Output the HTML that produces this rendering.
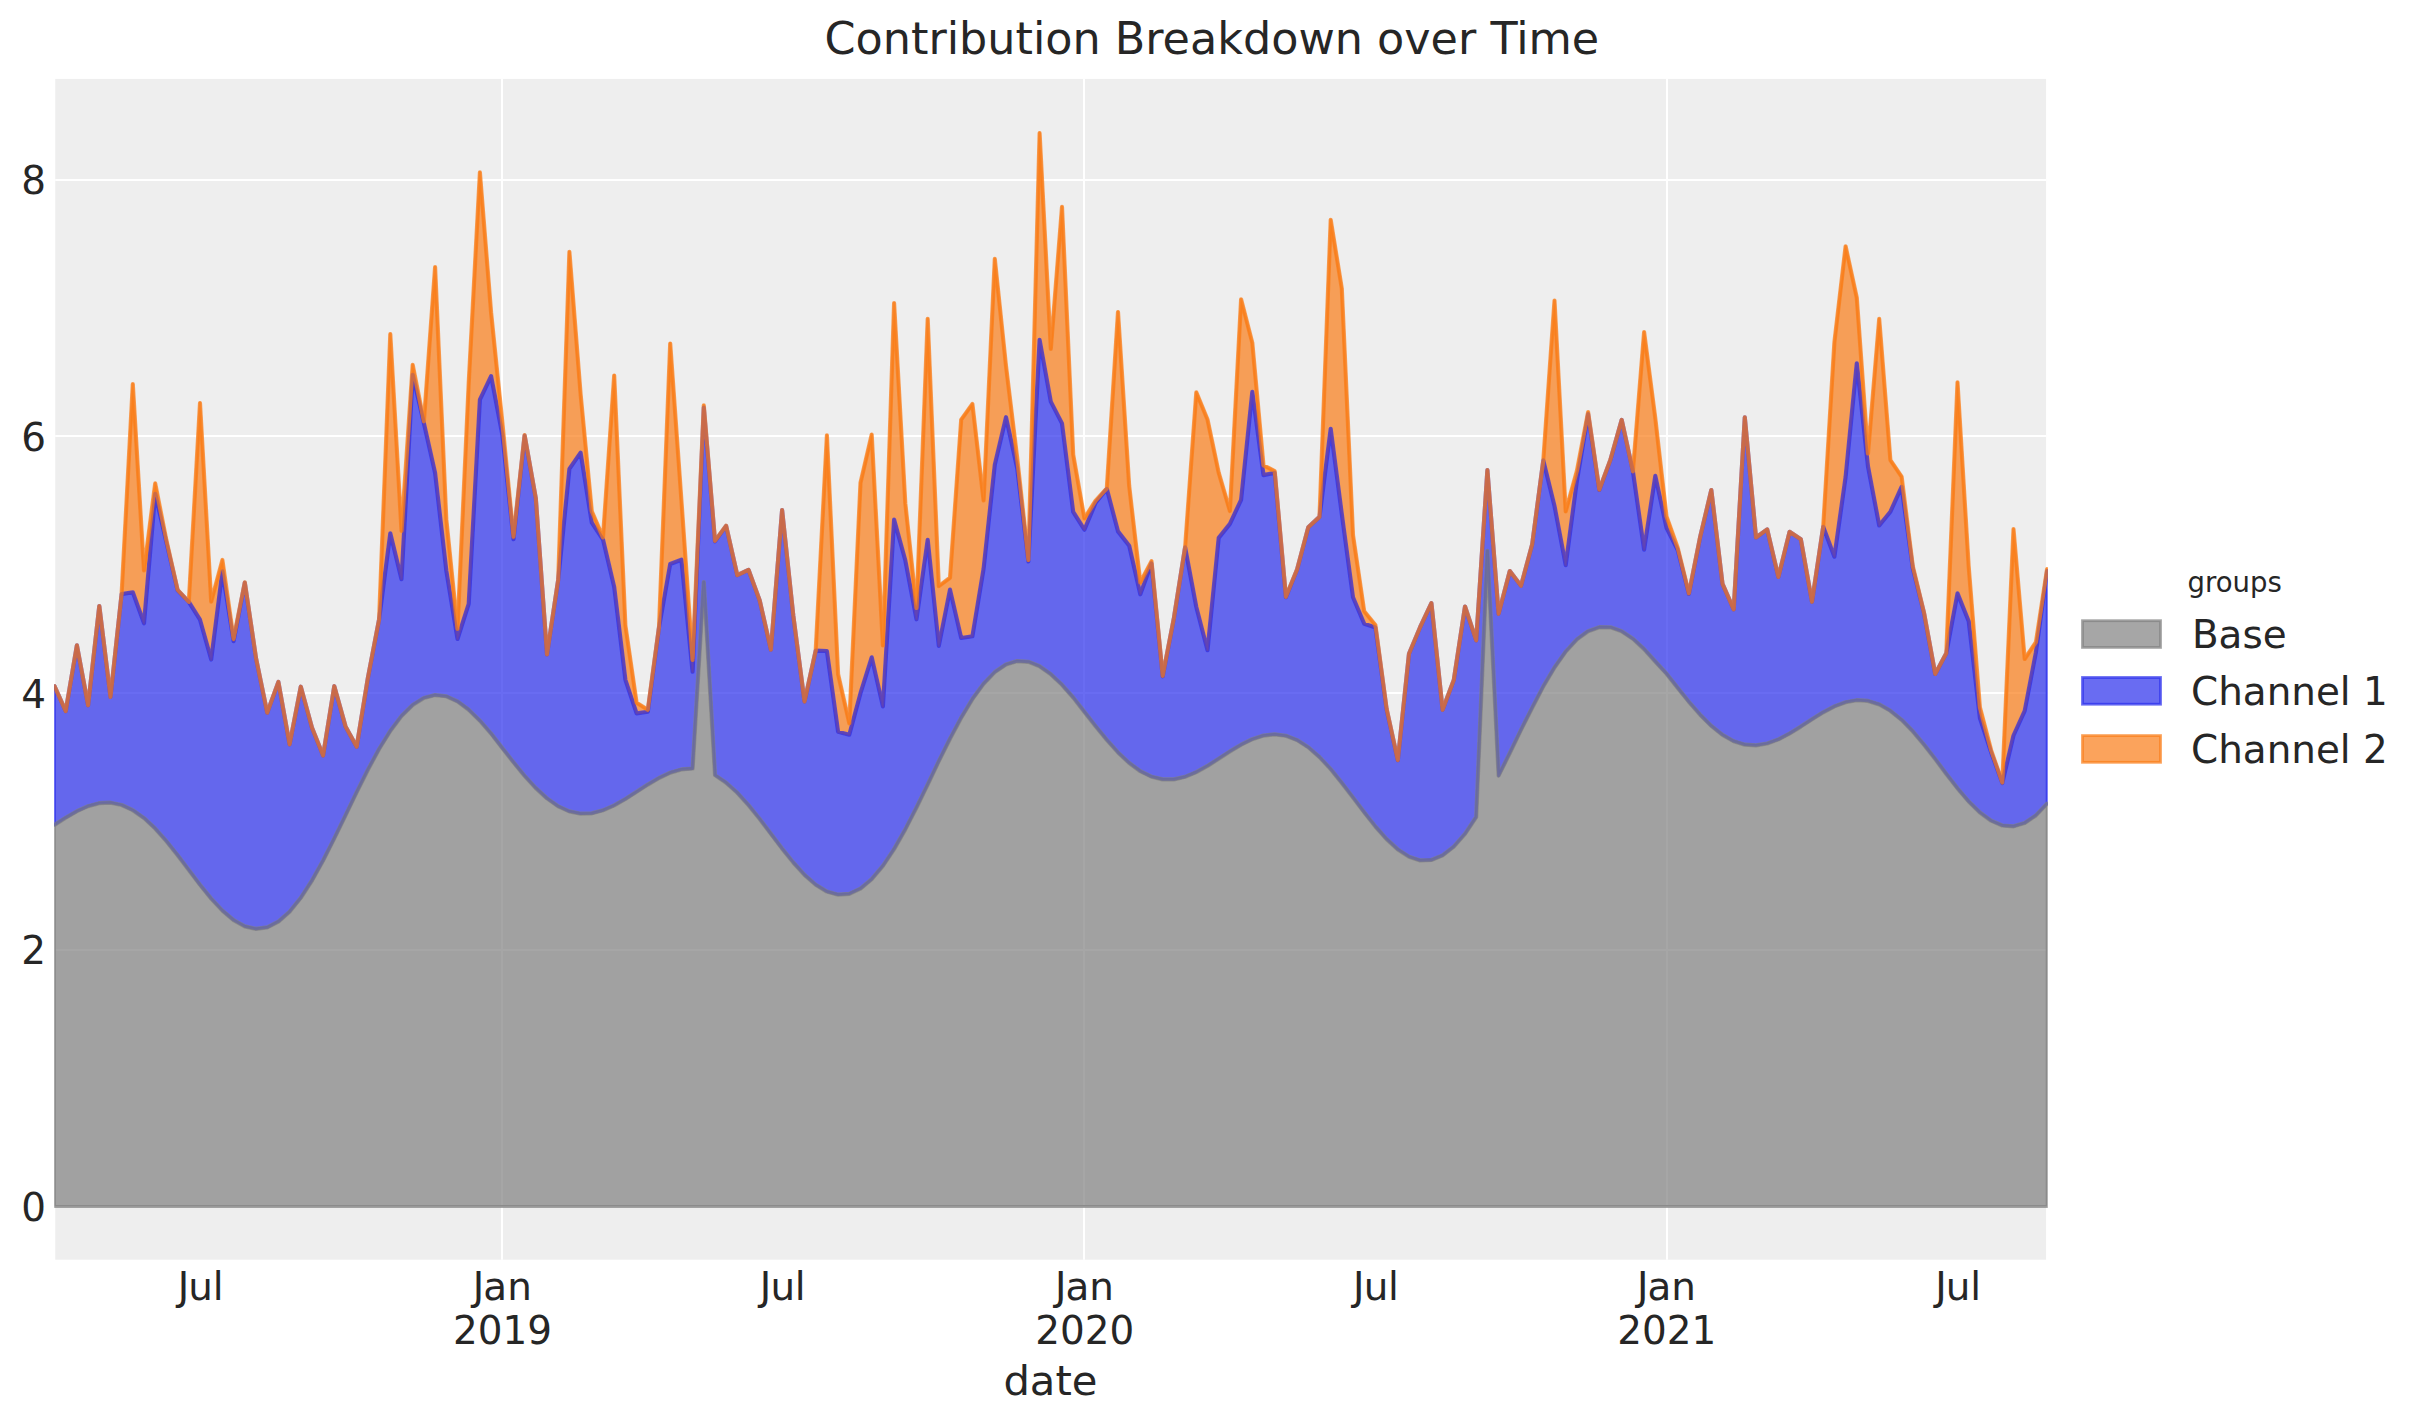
<!DOCTYPE html>
<html lang="en"><head><meta charset="utf-8"><title>Contribution Breakdown over Time</title>
<style>html,body{margin:0;padding:0;background:#ffffff;}body{width:2423px;height:1423px;overflow:hidden;position:relative;}</style></head>
<body>
<svg width="2423" height="1423" viewBox="0 0 2423 1423" style="display:block;position:absolute;left:0;top:0">
<defs><clipPath id="ax"><rect x="54.2" y="78.9" width="1993.6" height="1180.8"/></clipPath></defs>
<rect x="55.25" y="78.9" width="1990.85" height="1180.80" fill="#eeeeee"/>
<g fill="#ffffff"><rect x="501" y="78.9" width="2" height="1180.80"/><rect x="1083" y="78.9" width="2" height="1180.80"/><rect x="1666" y="78.9" width="2" height="1180.80"/><rect x="55.25" y="179" width="1990.85" height="2"/><rect x="55.25" y="435" width="1990.85" height="2"/><rect x="55.25" y="692" width="1990.85" height="2"/><rect x="55.25" y="949" width="1990.85" height="2"/><rect x="55.25" y="1205" width="1990.85" height="2"/></g>
<g clip-path="url(#ax)" stroke-linejoin="round" stroke-linecap="round">
<polygon points="54.5,824.9 65.7,817.7 76.9,811.2 88.1,806.2 99.3,803.2 110.5,802.7 121.6,805.0 132.8,810.2 144.0,818.1 155.2,828.6 166.4,841.2 177.6,855.2 188.8,870.0 200.0,884.8 211.2,898.6 222.4,910.6 233.6,920.1 244.8,926.4 256.0,928.9 267.2,927.4 278.4,921.6 289.6,911.7 300.8,897.8 312.0,880.5 323.1,860.5 334.3,838.4 345.5,815.3 356.7,792.1 367.9,769.7 379.1,749.0 390.3,730.9 401.5,716.0 412.7,704.9 423.9,697.9 435.1,695.1 446.3,696.3 457.5,701.4 468.7,709.7 479.9,720.7 491.1,733.6 502.3,748.1 513.5,762.3 524.6,775.9 535.8,788.1 547.0,798.4 558.2,806.3 569.4,811.4 580.6,813.7 591.8,813.3 603.0,810.3 614.2,805.4 625.4,799.0 636.6,791.8 647.8,784.6 659.0,778.0 670.2,772.7 681.4,769.4 692.6,768.5 703.8,582.1 715.0,775.1 726.1,782.7 737.3,792.8 748.5,805.1 759.7,819.0 770.9,833.8 782.1,848.6 793.3,862.5 804.5,874.9 815.7,884.8 826.9,891.6 838.1,894.7 849.3,893.8 860.5,888.6 871.7,879.2 882.9,865.9 894.1,849.1 905.3,829.4 916.5,807.5 927.7,784.5 938.8,761.2 950.0,738.7 961.2,717.7 972.4,699.1 983.6,683.8 994.8,672.1 1006.0,664.5 1017.2,661.1 1028.4,661.8 1039.6,666.3 1050.8,674.2 1062.0,684.8 1073.2,697.5 1084.4,711.9 1095.6,726.2 1106.8,739.9 1118.0,752.4 1129.2,763.0 1140.3,771.2 1151.5,776.7 1162.7,779.4 1173.9,779.4 1185.1,776.8 1196.3,772.1 1207.5,765.9 1218.7,758.7 1229.9,751.4 1241.1,744.7 1252.3,739.2 1263.5,735.6 1274.7,734.4 1285.9,735.8 1297.1,740.1 1308.3,747.3 1319.5,757.1 1330.7,769.1 1341.8,782.9 1353.0,797.5 1364.2,812.3 1375.4,826.5 1386.6,839.1 1397.8,849.4 1409.0,856.7 1420.2,860.4 1431.4,860.0 1442.6,855.4 1453.8,846.7 1465.0,833.9 1476.2,817.0 1487.4,550.8 1498.6,775.7 1509.8,753.0 1521.0,729.8 1532.2,707.7 1543.3,686.4 1554.5,667.5 1565.7,651.6 1576.9,639.4 1588.1,631.2 1599.3,627.2 1610.5,627.3 1621.7,631.3 1632.9,638.8 1644.1,649.1 1655.3,661.5 1666.5,673.7 1677.7,687.9 1688.9,701.8 1700.1,714.7 1711.3,725.9 1722.5,734.9 1733.7,741.2 1744.8,744.7 1756.0,745.4 1767.2,743.5 1778.4,739.4 1789.6,733.5 1800.8,726.6 1812.0,719.3 1823.2,712.3 1834.4,706.4 1845.6,702.2 1856.8,700.2 1868.0,700.9 1879.2,704.4 1890.4,710.8 1901.6,719.8 1912.8,731.3 1924.0,744.6 1935.2,759.0 1946.3,773.9 1957.5,788.3 1968.7,801.5 1979.9,812.5 1991.1,820.7 2002.3,825.5 2013.5,826.3 2024.7,823.0 2035.9,815.4 2047.1,803.7 2047.1,1206.5 2035.9,1206.5 2024.7,1206.5 2013.5,1206.5 2002.3,1206.5 1991.1,1206.5 1979.9,1206.5 1968.7,1206.5 1957.5,1206.5 1946.3,1206.5 1935.2,1206.5 1924.0,1206.5 1912.8,1206.5 1901.6,1206.5 1890.4,1206.5 1879.2,1206.5 1868.0,1206.5 1856.8,1206.5 1845.6,1206.5 1834.4,1206.5 1823.2,1206.5 1812.0,1206.5 1800.8,1206.5 1789.6,1206.5 1778.4,1206.5 1767.2,1206.5 1756.0,1206.5 1744.8,1206.5 1733.7,1206.5 1722.5,1206.5 1711.3,1206.5 1700.1,1206.5 1688.9,1206.5 1677.7,1206.5 1666.5,1206.5 1655.3,1206.5 1644.1,1206.5 1632.9,1206.5 1621.7,1206.5 1610.5,1206.5 1599.3,1206.5 1588.1,1206.5 1576.9,1206.5 1565.7,1206.5 1554.5,1206.5 1543.3,1206.5 1532.2,1206.5 1521.0,1206.5 1509.8,1206.5 1498.6,1206.5 1487.4,1206.5 1476.2,1206.5 1465.0,1206.5 1453.8,1206.5 1442.6,1206.5 1431.4,1206.5 1420.2,1206.5 1409.0,1206.5 1397.8,1206.5 1386.6,1206.5 1375.4,1206.5 1364.2,1206.5 1353.0,1206.5 1341.8,1206.5 1330.7,1206.5 1319.5,1206.5 1308.3,1206.5 1297.1,1206.5 1285.9,1206.5 1274.7,1206.5 1263.5,1206.5 1252.3,1206.5 1241.1,1206.5 1229.9,1206.5 1218.7,1206.5 1207.5,1206.5 1196.3,1206.5 1185.1,1206.5 1173.9,1206.5 1162.7,1206.5 1151.5,1206.5 1140.3,1206.5 1129.2,1206.5 1118.0,1206.5 1106.8,1206.5 1095.6,1206.5 1084.4,1206.5 1073.2,1206.5 1062.0,1206.5 1050.8,1206.5 1039.6,1206.5 1028.4,1206.5 1017.2,1206.5 1006.0,1206.5 994.8,1206.5 983.6,1206.5 972.4,1206.5 961.2,1206.5 950.0,1206.5 938.8,1206.5 927.7,1206.5 916.5,1206.5 905.3,1206.5 894.1,1206.5 882.9,1206.5 871.7,1206.5 860.5,1206.5 849.3,1206.5 838.1,1206.5 826.9,1206.5 815.7,1206.5 804.5,1206.5 793.3,1206.5 782.1,1206.5 770.9,1206.5 759.7,1206.5 748.5,1206.5 737.3,1206.5 726.1,1206.5 715.0,1206.5 703.8,1206.5 692.6,1206.5 681.4,1206.5 670.2,1206.5 659.0,1206.5 647.8,1206.5 636.6,1206.5 625.4,1206.5 614.2,1206.5 603.0,1206.5 591.8,1206.5 580.6,1206.5 569.4,1206.5 558.2,1206.5 547.0,1206.5 535.8,1206.5 524.6,1206.5 513.5,1206.5 502.3,1206.5 491.1,1206.5 479.9,1206.5 468.7,1206.5 457.5,1206.5 446.3,1206.5 435.1,1206.5 423.9,1206.5 412.7,1206.5 401.5,1206.5 390.3,1206.5 379.1,1206.5 367.9,1206.5 356.7,1206.5 345.5,1206.5 334.3,1206.5 323.1,1206.5 312.0,1206.5 300.8,1206.5 289.6,1206.5 278.4,1206.5 267.2,1206.5 256.0,1206.5 244.8,1206.5 233.6,1206.5 222.4,1206.5 211.2,1206.5 200.0,1206.5 188.8,1206.5 177.6,1206.5 166.4,1206.5 155.2,1206.5 144.0,1206.5 132.8,1206.5 121.6,1206.5 110.5,1206.5 99.3,1206.5 88.1,1206.5 76.9,1206.5 65.7,1206.5 54.5,1206.5" fill="#808080" fill-opacity="0.7" stroke="#808080" stroke-opacity="0.7" stroke-width="2.78"/>
<polygon points="54.5,686.2 65.7,711.2 76.9,645.3 88.1,705.3 99.3,606.1 110.5,696.9 121.6,594.1 132.8,592.3 144.0,623.3 155.2,493.8 166.4,542.3 177.6,590.3 188.8,601.9 200.0,619.7 211.2,659.5 222.4,571.4 233.6,641.2 244.8,582.7 256.0,658.2 267.2,712.7 278.4,682.0 289.6,744.4 300.8,686.7 312.0,727.8 323.1,755.5 334.3,686.2 345.5,726.4 356.7,746.7 367.9,677.8 379.1,619.3 390.3,533.3 401.5,579.2 412.7,374.9 423.9,423.2 435.1,473.0 446.3,570.6 457.5,639.0 468.7,603.8 479.9,399.6 491.1,376.1 502.3,434.6 513.5,539.2 524.6,435.6 535.8,498.3 547.0,654.4 558.2,579.7 569.4,468.9 580.6,452.6 591.8,522.7 603.0,539.6 614.2,587.0 625.4,679.8 636.6,713.4 647.8,711.8 659.0,627.5 670.2,564.0 681.4,559.7 692.6,671.7 703.8,407.7 715.0,541.3 726.1,525.9 737.3,575.2 748.5,569.8 759.7,600.5 770.9,649.7 782.1,510.1 793.3,615.7 804.5,701.6 815.7,650.7 826.9,651.0 838.1,731.8 849.3,734.7 860.5,693.2 871.7,657.3 882.9,706.4 894.1,519.6 905.3,560.3 916.5,619.3 927.7,539.8 938.8,645.9 950.0,589.6 961.2,638.0 972.4,636.3 983.6,568.7 994.8,464.7 1006.0,417.2 1017.2,468.2 1028.4,561.4 1039.6,339.9 1050.8,401.6 1062.0,423.4 1073.2,511.9 1084.4,529.7 1095.6,502.8 1106.8,488.9 1118.0,531.4 1129.2,545.7 1140.3,594.3 1151.5,563.4 1162.7,676.3 1173.9,618.2 1185.1,547.4 1196.3,607.0 1207.5,650.2 1218.7,537.9 1229.9,523.9 1241.1,499.8 1252.3,391.9 1263.5,475.1 1274.7,472.9 1285.9,597.2 1297.1,569.5 1308.3,527.2 1319.5,516.9 1330.7,428.8 1341.8,514.0 1353.0,597.3 1364.2,623.7 1375.4,627.4 1386.6,709.2 1397.8,760.2 1409.0,653.7 1420.2,627.0 1431.4,603.1 1442.6,709.8 1453.8,680.0 1465.0,606.5 1476.2,640.4 1487.4,470.2 1498.6,613.8 1509.8,571.1 1521.0,585.8 1532.2,544.3 1543.3,460.4 1554.5,506.0 1565.7,565.2 1576.9,480.8 1588.1,414.1 1599.3,490.0 1610.5,459.6 1621.7,419.9 1632.9,471.3 1644.1,549.6 1655.3,475.9 1666.5,527.8 1677.7,550.0 1688.9,593.9 1700.1,537.3 1711.3,490.1 1722.5,583.9 1733.7,609.4 1744.8,417.4 1756.0,537.5 1767.2,529.4 1778.4,577.0 1789.6,531.8 1800.8,539.2 1812.0,601.8 1823.2,526.8 1834.4,556.7 1845.6,476.9 1856.8,363.3 1868.0,466.5 1879.2,525.5 1890.4,511.7 1901.6,486.8 1912.8,568.3 1924.0,613.1 1935.2,674.0 1946.3,653.3 1957.5,593.4 1968.7,621.3 1979.9,718.0 1991.1,752.2 2002.3,783.0 2013.5,735.5 2024.7,710.9 2035.9,652.4 2047.1,571.0 2047.1,803.7 2035.9,815.4 2024.7,823.0 2013.5,826.3 2002.3,825.5 1991.1,820.7 1979.9,812.5 1968.7,801.5 1957.5,788.3 1946.3,773.9 1935.2,759.0 1924.0,744.6 1912.8,731.3 1901.6,719.8 1890.4,710.8 1879.2,704.4 1868.0,700.9 1856.8,700.2 1845.6,702.2 1834.4,706.4 1823.2,712.3 1812.0,719.3 1800.8,726.6 1789.6,733.5 1778.4,739.4 1767.2,743.5 1756.0,745.4 1744.8,744.7 1733.7,741.2 1722.5,734.9 1711.3,725.9 1700.1,714.7 1688.9,701.8 1677.7,687.9 1666.5,673.7 1655.3,661.5 1644.1,649.1 1632.9,638.8 1621.7,631.3 1610.5,627.3 1599.3,627.2 1588.1,631.2 1576.9,639.4 1565.7,651.6 1554.5,667.5 1543.3,686.4 1532.2,707.7 1521.0,729.8 1509.8,753.0 1498.6,775.7 1487.4,550.8 1476.2,817.0 1465.0,833.9 1453.8,846.7 1442.6,855.4 1431.4,860.0 1420.2,860.4 1409.0,856.7 1397.8,849.4 1386.6,839.1 1375.4,826.5 1364.2,812.3 1353.0,797.5 1341.8,782.9 1330.7,769.1 1319.5,757.1 1308.3,747.3 1297.1,740.1 1285.9,735.8 1274.7,734.4 1263.5,735.6 1252.3,739.2 1241.1,744.7 1229.9,751.4 1218.7,758.7 1207.5,765.9 1196.3,772.1 1185.1,776.8 1173.9,779.4 1162.7,779.4 1151.5,776.7 1140.3,771.2 1129.2,763.0 1118.0,752.4 1106.8,739.9 1095.6,726.2 1084.4,711.9 1073.2,697.5 1062.0,684.8 1050.8,674.2 1039.6,666.3 1028.4,661.8 1017.2,661.1 1006.0,664.5 994.8,672.1 983.6,683.8 972.4,699.1 961.2,717.7 950.0,738.7 938.8,761.2 927.7,784.5 916.5,807.5 905.3,829.4 894.1,849.1 882.9,865.9 871.7,879.2 860.5,888.6 849.3,893.8 838.1,894.7 826.9,891.6 815.7,884.8 804.5,874.9 793.3,862.5 782.1,848.6 770.9,833.8 759.7,819.0 748.5,805.1 737.3,792.8 726.1,782.7 715.0,775.1 703.8,582.1 692.6,768.5 681.4,769.4 670.2,772.7 659.0,778.0 647.8,784.6 636.6,791.8 625.4,799.0 614.2,805.4 603.0,810.3 591.8,813.3 580.6,813.7 569.4,811.4 558.2,806.3 547.0,798.4 535.8,788.1 524.6,775.9 513.5,762.3 502.3,748.1 491.1,733.6 479.9,720.7 468.7,709.7 457.5,701.4 446.3,696.3 435.1,695.1 423.9,697.9 412.7,704.9 401.5,716.0 390.3,730.9 379.1,749.0 367.9,769.7 356.7,792.1 345.5,815.3 334.3,838.4 323.1,860.5 312.0,880.5 300.8,897.8 289.6,911.7 278.4,921.6 267.2,927.4 256.0,928.9 244.8,926.4 233.6,920.1 222.4,910.6 211.2,898.6 200.0,884.8 188.8,870.0 177.6,855.2 166.4,841.2 155.2,828.6 144.0,818.1 132.8,810.2 121.6,805.0 110.5,802.7 99.3,803.2 88.1,806.2 76.9,811.2 65.7,817.7 54.5,824.9" fill="#2a2eec" fill-opacity="0.7" stroke="#2a2eec" stroke-opacity="0.7" stroke-width="2.78"/>
<polygon points="54.5,686.2 65.7,711.2 76.9,645.3 88.1,705.3 99.3,606.1 110.5,696.9 121.6,594.1 132.8,384.2 144.0,570.4 155.2,483.4 166.4,540.3 177.6,589.9 188.8,601.9 200.0,403.0 211.2,601.6 222.4,560.0 233.6,638.9 244.8,582.3 256.0,658.1 267.2,712.7 278.4,682.0 289.6,744.4 300.8,686.7 312.0,727.8 323.1,755.5 334.3,686.2 345.5,726.4 356.7,746.7 367.9,677.8 379.1,619.3 390.3,334.0 401.5,530.9 412.7,364.9 423.9,421.3 435.1,267.1 446.3,519.2 457.5,628.8 468.7,383.4 479.9,172.4 491.1,312.5 502.3,422.0 513.5,536.7 524.6,435.1 535.8,498.3 547.0,654.4 558.2,579.7 569.4,251.9 580.6,394.1 591.8,511.2 603.0,537.4 614.2,375.5 625.4,625.5 636.6,702.7 647.8,709.7 659.0,627.1 670.2,343.5 681.4,500.1 692.6,659.9 703.8,405.4 715.0,540.8 726.1,525.8 737.3,575.2 748.5,569.8 759.7,600.5 770.9,649.7 782.1,510.1 793.3,615.7 804.5,701.6 815.7,650.7 826.9,435.3 838.1,674.3 849.3,723.3 860.5,482.7 871.7,434.5 882.9,645.5 894.1,303.1 905.3,503.2 916.5,608.0 927.7,318.9 938.8,586.1 950.0,577.8 961.2,419.6 972.4,404.0 983.6,500.4 994.8,258.9 1006.0,366.0 1017.2,458.1 1028.4,559.9 1039.6,133.0 1050.8,348.8 1062.0,206.9 1073.2,454.7 1084.4,518.4 1095.6,500.6 1106.8,488.4 1118.0,312.0 1129.2,486.1 1140.3,582.5 1151.5,561.1 1162.7,675.8 1173.9,618.1 1185.1,547.4 1196.3,392.4 1207.5,419.5 1218.7,472.7 1229.9,511.0 1241.1,299.3 1252.3,342.8 1263.5,465.4 1274.7,471.0 1285.9,596.8 1297.1,569.4 1308.3,527.2 1319.5,516.9 1330.7,219.8 1341.8,288.5 1353.0,535.0 1364.2,611.3 1375.4,625.0 1386.6,708.7 1397.8,760.1 1409.0,653.7 1420.2,627.0 1431.4,603.1 1442.6,709.8 1453.8,680.0 1465.0,606.5 1476.2,640.4 1487.4,470.2 1498.6,613.8 1509.8,571.1 1521.0,585.8 1532.2,544.3 1543.3,460.4 1554.5,300.6 1565.7,511.5 1576.9,470.8 1588.1,412.1 1599.3,489.7 1610.5,459.5 1621.7,419.9 1632.9,471.3 1644.1,332.1 1655.3,418.3 1666.5,516.4 1677.7,547.8 1688.9,593.4 1700.1,537.2 1711.3,490.1 1722.5,583.9 1733.7,609.4 1744.8,417.4 1756.0,537.5 1767.2,529.4 1778.4,577.0 1789.6,531.8 1800.8,539.2 1812.0,601.8 1823.2,526.8 1834.4,342.2 1845.6,246.3 1856.8,297.8 1868.0,453.5 1879.2,318.8 1890.4,460.1 1901.6,476.6 1912.8,566.3 1924.0,612.7 1935.2,673.9 1946.3,653.3 1957.5,382.4 1968.7,566.7 1979.9,707.2 1991.1,750.1 2002.3,782.5 2013.5,529.1 2024.7,659.0 2035.9,642.2 2047.1,569.0 2047.1,571.0 2035.9,652.4 2024.7,710.9 2013.5,735.5 2002.3,783.0 1991.1,752.2 1979.9,718.0 1968.7,621.3 1957.5,593.4 1946.3,653.3 1935.2,674.0 1924.0,613.1 1912.8,568.3 1901.6,486.8 1890.4,511.7 1879.2,525.5 1868.0,466.5 1856.8,363.3 1845.6,476.9 1834.4,556.7 1823.2,526.8 1812.0,601.8 1800.8,539.2 1789.6,531.8 1778.4,577.0 1767.2,529.4 1756.0,537.5 1744.8,417.4 1733.7,609.4 1722.5,583.9 1711.3,490.1 1700.1,537.3 1688.9,593.9 1677.7,550.0 1666.5,527.8 1655.3,475.9 1644.1,549.6 1632.9,471.3 1621.7,419.9 1610.5,459.6 1599.3,490.0 1588.1,414.1 1576.9,480.8 1565.7,565.2 1554.5,506.0 1543.3,460.4 1532.2,544.3 1521.0,585.8 1509.8,571.1 1498.6,613.8 1487.4,470.2 1476.2,640.4 1465.0,606.5 1453.8,680.0 1442.6,709.8 1431.4,603.1 1420.2,627.0 1409.0,653.7 1397.8,760.2 1386.6,709.2 1375.4,627.4 1364.2,623.7 1353.0,597.3 1341.8,514.0 1330.7,428.8 1319.5,516.9 1308.3,527.2 1297.1,569.5 1285.9,597.2 1274.7,472.9 1263.5,475.1 1252.3,391.9 1241.1,499.8 1229.9,523.9 1218.7,537.9 1207.5,650.2 1196.3,607.0 1185.1,547.4 1173.9,618.2 1162.7,676.3 1151.5,563.4 1140.3,594.3 1129.2,545.7 1118.0,531.4 1106.8,488.9 1095.6,502.8 1084.4,529.7 1073.2,511.9 1062.0,423.4 1050.8,401.6 1039.6,339.9 1028.4,561.4 1017.2,468.2 1006.0,417.2 994.8,464.7 983.6,568.7 972.4,636.3 961.2,638.0 950.0,589.6 938.8,645.9 927.7,539.8 916.5,619.3 905.3,560.3 894.1,519.6 882.9,706.4 871.7,657.3 860.5,693.2 849.3,734.7 838.1,731.8 826.9,651.0 815.7,650.7 804.5,701.6 793.3,615.7 782.1,510.1 770.9,649.7 759.7,600.5 748.5,569.8 737.3,575.2 726.1,525.9 715.0,541.3 703.8,407.7 692.6,671.7 681.4,559.7 670.2,564.0 659.0,627.5 647.8,711.8 636.6,713.4 625.4,679.8 614.2,587.0 603.0,539.6 591.8,522.7 580.6,452.6 569.4,468.9 558.2,579.7 547.0,654.4 535.8,498.3 524.6,435.6 513.5,539.2 502.3,434.6 491.1,376.1 479.9,399.6 468.7,603.8 457.5,639.0 446.3,570.6 435.1,473.0 423.9,423.2 412.7,374.9 401.5,579.2 390.3,533.3 379.1,619.3 367.9,677.8 356.7,746.7 345.5,726.4 334.3,686.2 323.1,755.5 312.0,727.8 300.8,686.7 289.6,744.4 278.4,682.0 267.2,712.7 256.0,658.2 244.8,582.7 233.6,641.2 222.4,571.4 211.2,659.5 200.0,619.7 188.8,601.9 177.6,590.3 166.4,542.3 155.2,493.8 144.0,623.3 132.8,592.3 121.6,594.1 110.5,696.9 99.3,606.1 88.1,705.3 76.9,645.3 65.7,711.2 54.5,686.2" fill="#fa7c17" fill-opacity="0.7" stroke="#fa7c17" stroke-opacity="0.7" stroke-width="2.78"/>
<polyline points="54.5,824.9 65.7,817.7 76.9,811.2 88.1,806.2 99.3,803.2 110.5,802.7 121.6,805.0 132.8,810.2 144.0,818.1 155.2,828.6 166.4,841.2 177.6,855.2 188.8,870.0 200.0,884.8 211.2,898.6 222.4,910.6 233.6,920.1 244.8,926.4 256.0,928.9 267.2,927.4 278.4,921.6 289.6,911.7 300.8,897.8 312.0,880.5 323.1,860.5 334.3,838.4 345.5,815.3 356.7,792.1 367.9,769.7 379.1,749.0 390.3,730.9 401.5,716.0 412.7,704.9 423.9,697.9 435.1,695.1 446.3,696.3 457.5,701.4 468.7,709.7 479.9,720.7 491.1,733.6 502.3,748.1 513.5,762.3 524.6,775.9 535.8,788.1 547.0,798.4 558.2,806.3 569.4,811.4 580.6,813.7 591.8,813.3 603.0,810.3 614.2,805.4 625.4,799.0 636.6,791.8 647.8,784.6 659.0,778.0 670.2,772.7 681.4,769.4 692.6,768.5 703.8,582.1 715.0,775.1 726.1,782.7 737.3,792.8 748.5,805.1 759.7,819.0 770.9,833.8 782.1,848.6 793.3,862.5 804.5,874.9 815.7,884.8 826.9,891.6 838.1,894.7 849.3,893.8 860.5,888.6 871.7,879.2 882.9,865.9 894.1,849.1 905.3,829.4 916.5,807.5 927.7,784.5 938.8,761.2 950.0,738.7 961.2,717.7 972.4,699.1 983.6,683.8 994.8,672.1 1006.0,664.5 1017.2,661.1 1028.4,661.8 1039.6,666.3 1050.8,674.2 1062.0,684.8 1073.2,697.5 1084.4,711.9 1095.6,726.2 1106.8,739.9 1118.0,752.4 1129.2,763.0 1140.3,771.2 1151.5,776.7 1162.7,779.4 1173.9,779.4 1185.1,776.8 1196.3,772.1 1207.5,765.9 1218.7,758.7 1229.9,751.4 1241.1,744.7 1252.3,739.2 1263.5,735.6 1274.7,734.4 1285.9,735.8 1297.1,740.1 1308.3,747.3 1319.5,757.1 1330.7,769.1 1341.8,782.9 1353.0,797.5 1364.2,812.3 1375.4,826.5 1386.6,839.1 1397.8,849.4 1409.0,856.7 1420.2,860.4 1431.4,860.0 1442.6,855.4 1453.8,846.7 1465.0,833.9 1476.2,817.0 1487.4,550.8 1498.6,775.7 1509.8,753.0 1521.0,729.8 1532.2,707.7 1543.3,686.4 1554.5,667.5 1565.7,651.6 1576.9,639.4 1588.1,631.2 1599.3,627.2 1610.5,627.3 1621.7,631.3 1632.9,638.8 1644.1,649.1 1655.3,661.5 1666.5,673.7 1677.7,687.9 1688.9,701.8 1700.1,714.7 1711.3,725.9 1722.5,734.9 1733.7,741.2 1744.8,744.7 1756.0,745.4 1767.2,743.5 1778.4,739.4 1789.6,733.5 1800.8,726.6 1812.0,719.3 1823.2,712.3 1834.4,706.4 1845.6,702.2 1856.8,700.2 1868.0,700.9 1879.2,704.4 1890.4,710.8 1901.6,719.8 1912.8,731.3 1924.0,744.6 1935.2,759.0 1946.3,773.9 1957.5,788.3 1968.7,801.5 1979.9,812.5 1991.1,820.7 2002.3,825.5 2013.5,826.3 2024.7,823.0 2035.9,815.4 2047.1,803.7" fill="none" stroke="#808080" stroke-opacity="0.7" stroke-width="4.17"/>
<polyline points="54.5,686.2 65.7,711.2 76.9,645.3 88.1,705.3 99.3,606.1 110.5,696.9 121.6,594.1 132.8,592.3 144.0,623.3 155.2,493.8 166.4,542.3 177.6,590.3 188.8,601.9 200.0,619.7 211.2,659.5 222.4,571.4 233.6,641.2 244.8,582.7 256.0,658.2 267.2,712.7 278.4,682.0 289.6,744.4 300.8,686.7 312.0,727.8 323.1,755.5 334.3,686.2 345.5,726.4 356.7,746.7 367.9,677.8 379.1,619.3 390.3,533.3 401.5,579.2 412.7,374.9 423.9,423.2 435.1,473.0 446.3,570.6 457.5,639.0 468.7,603.8 479.9,399.6 491.1,376.1 502.3,434.6 513.5,539.2 524.6,435.6 535.8,498.3 547.0,654.4 558.2,579.7 569.4,468.9 580.6,452.6 591.8,522.7 603.0,539.6 614.2,587.0 625.4,679.8 636.6,713.4 647.8,711.8 659.0,627.5 670.2,564.0 681.4,559.7 692.6,671.7 703.8,407.7 715.0,541.3 726.1,525.9 737.3,575.2 748.5,569.8 759.7,600.5 770.9,649.7 782.1,510.1 793.3,615.7 804.5,701.6 815.7,650.7 826.9,651.0 838.1,731.8 849.3,734.7 860.5,693.2 871.7,657.3 882.9,706.4 894.1,519.6 905.3,560.3 916.5,619.3 927.7,539.8 938.8,645.9 950.0,589.6 961.2,638.0 972.4,636.3 983.6,568.7 994.8,464.7 1006.0,417.2 1017.2,468.2 1028.4,561.4 1039.6,339.9 1050.8,401.6 1062.0,423.4 1073.2,511.9 1084.4,529.7 1095.6,502.8 1106.8,488.9 1118.0,531.4 1129.2,545.7 1140.3,594.3 1151.5,563.4 1162.7,676.3 1173.9,618.2 1185.1,547.4 1196.3,607.0 1207.5,650.2 1218.7,537.9 1229.9,523.9 1241.1,499.8 1252.3,391.9 1263.5,475.1 1274.7,472.9 1285.9,597.2 1297.1,569.5 1308.3,527.2 1319.5,516.9 1330.7,428.8 1341.8,514.0 1353.0,597.3 1364.2,623.7 1375.4,627.4 1386.6,709.2 1397.8,760.2 1409.0,653.7 1420.2,627.0 1431.4,603.1 1442.6,709.8 1453.8,680.0 1465.0,606.5 1476.2,640.4 1487.4,470.2 1498.6,613.8 1509.8,571.1 1521.0,585.8 1532.2,544.3 1543.3,460.4 1554.5,506.0 1565.7,565.2 1576.9,480.8 1588.1,414.1 1599.3,490.0 1610.5,459.6 1621.7,419.9 1632.9,471.3 1644.1,549.6 1655.3,475.9 1666.5,527.8 1677.7,550.0 1688.9,593.9 1700.1,537.3 1711.3,490.1 1722.5,583.9 1733.7,609.4 1744.8,417.4 1756.0,537.5 1767.2,529.4 1778.4,577.0 1789.6,531.8 1800.8,539.2 1812.0,601.8 1823.2,526.8 1834.4,556.7 1845.6,476.9 1856.8,363.3 1868.0,466.5 1879.2,525.5 1890.4,511.7 1901.6,486.8 1912.8,568.3 1924.0,613.1 1935.2,674.0 1946.3,653.3 1957.5,593.4 1968.7,621.3 1979.9,718.0 1991.1,752.2 2002.3,783.0 2013.5,735.5 2024.7,710.9 2035.9,652.4 2047.1,571.0" fill="none" stroke="#2a2eec" stroke-opacity="0.7" stroke-width="4.17"/>
<polyline points="54.5,686.2 65.7,711.2 76.9,645.3 88.1,705.3 99.3,606.1 110.5,696.9 121.6,594.1 132.8,384.2 144.0,570.4 155.2,483.4 166.4,540.3 177.6,589.9 188.8,601.9 200.0,403.0 211.2,601.6 222.4,560.0 233.6,638.9 244.8,582.3 256.0,658.1 267.2,712.7 278.4,682.0 289.6,744.4 300.8,686.7 312.0,727.8 323.1,755.5 334.3,686.2 345.5,726.4 356.7,746.7 367.9,677.8 379.1,619.3 390.3,334.0 401.5,530.9 412.7,364.9 423.9,421.3 435.1,267.1 446.3,519.2 457.5,628.8 468.7,383.4 479.9,172.4 491.1,312.5 502.3,422.0 513.5,536.7 524.6,435.1 535.8,498.3 547.0,654.4 558.2,579.7 569.4,251.9 580.6,394.1 591.8,511.2 603.0,537.4 614.2,375.5 625.4,625.5 636.6,702.7 647.8,709.7 659.0,627.1 670.2,343.5 681.4,500.1 692.6,659.9 703.8,405.4 715.0,540.8 726.1,525.8 737.3,575.2 748.5,569.8 759.7,600.5 770.9,649.7 782.1,510.1 793.3,615.7 804.5,701.6 815.7,650.7 826.9,435.3 838.1,674.3 849.3,723.3 860.5,482.7 871.7,434.5 882.9,645.5 894.1,303.1 905.3,503.2 916.5,608.0 927.7,318.9 938.8,586.1 950.0,577.8 961.2,419.6 972.4,404.0 983.6,500.4 994.8,258.9 1006.0,366.0 1017.2,458.1 1028.4,559.9 1039.6,133.0 1050.8,348.8 1062.0,206.9 1073.2,454.7 1084.4,518.4 1095.6,500.6 1106.8,488.4 1118.0,312.0 1129.2,486.1 1140.3,582.5 1151.5,561.1 1162.7,675.8 1173.9,618.1 1185.1,547.4 1196.3,392.4 1207.5,419.5 1218.7,472.7 1229.9,511.0 1241.1,299.3 1252.3,342.8 1263.5,465.4 1274.7,471.0 1285.9,596.8 1297.1,569.4 1308.3,527.2 1319.5,516.9 1330.7,219.8 1341.8,288.5 1353.0,535.0 1364.2,611.3 1375.4,625.0 1386.6,708.7 1397.8,760.1 1409.0,653.7 1420.2,627.0 1431.4,603.1 1442.6,709.8 1453.8,680.0 1465.0,606.5 1476.2,640.4 1487.4,470.2 1498.6,613.8 1509.8,571.1 1521.0,585.8 1532.2,544.3 1543.3,460.4 1554.5,300.6 1565.7,511.5 1576.9,470.8 1588.1,412.1 1599.3,489.7 1610.5,459.5 1621.7,419.9 1632.9,471.3 1644.1,332.1 1655.3,418.3 1666.5,516.4 1677.7,547.8 1688.9,593.4 1700.1,537.2 1711.3,490.1 1722.5,583.9 1733.7,609.4 1744.8,417.4 1756.0,537.5 1767.2,529.4 1778.4,577.0 1789.6,531.8 1800.8,539.2 1812.0,601.8 1823.2,526.8 1834.4,342.2 1845.6,246.3 1856.8,297.8 1868.0,453.5 1879.2,318.8 1890.4,460.1 1901.6,476.6 1912.8,566.3 1924.0,612.7 1935.2,673.9 1946.3,653.3 1957.5,382.4 1968.7,566.7 1979.9,707.2 1991.1,750.1 2002.3,782.5 2013.5,529.1 2024.7,659.0 2035.9,642.2 2047.1,569.0" fill="none" stroke="#fa7c17" stroke-opacity="0.7" stroke-width="4.17"/>
</g>
<rect x="2082.49" y="620.69" width="78.02" height="26.72" fill="#808080" fill-opacity="0.7" stroke="#808080" stroke-opacity="0.7" stroke-width="2.78"/>
<rect x="2082.49" y="677.49" width="78.02" height="26.72" fill="#2a2eec" fill-opacity="0.7" stroke="#2a2eec" stroke-opacity="0.7" stroke-width="2.78"/>
<rect x="2082.49" y="735.59" width="78.02" height="26.72" fill="#fa7c17" fill-opacity="0.7" stroke="#fa7c17" stroke-opacity="0.7" stroke-width="2.78"/>
<g font-family="'DejaVu Sans', 'Liberation Sans', sans-serif" fill="#262626"><text x="1211.9" y="54.3" font-size="44.47" text-anchor="middle">Contribution Breakdown over Time</text><text x="46.0" y="1221.1" font-size="38.9" text-anchor="end">0</text><text x="46.0" y="964.4" font-size="38.9" text-anchor="end">2</text><text x="46.0" y="707.7" font-size="38.9" text-anchor="end">4</text><text x="46.0" y="451.0" font-size="38.9" text-anchor="end">6</text><text x="46.0" y="194.3" font-size="38.9" text-anchor="end">8</text><text x="200.6" y="1300" dx="0 -0.9 -0.3" font-size="38.9" text-anchor="middle">Jul</text><text x="502.3" y="1300" dx="0 -1 0" font-size="38.9" text-anchor="middle">Jan</text><text x="502.6" y="1343.7" font-size="38.9" text-anchor="middle">2019</text><text x="782.7" y="1300" dx="0 -0.9 -0.3" font-size="38.9" text-anchor="middle">Jul</text><text x="1084.4" y="1300" dx="0 -1 0" font-size="38.9" text-anchor="middle">Jan</text><text x="1084.7" y="1343.7" font-size="38.9" text-anchor="middle">2020</text><text x="1376.0" y="1300" dx="0 -0.9 -0.3" font-size="38.9" text-anchor="middle">Jul</text><text x="1666.5" y="1300" dx="0 -1 0" font-size="38.9" text-anchor="middle">Jan</text><text x="1666.8" y="1343.7" font-size="38.9" text-anchor="middle">2021</text><text x="1958.1" y="1300" dx="0 -0.9 -0.3" font-size="38.9" text-anchor="middle">Jul</text><text x="1050.4" y="1394.7" font-size="41.7" text-anchor="middle">date</text><text x="2187.6" y="592.2" font-size="27.5" text-anchor="start">groups</text><text x="2191.9" y="648" font-size="38.9" text-anchor="start">Base</text><text x="2191" y="705" font-size="38.9" text-anchor="start">Channel 1</text><text x="2191" y="763" font-size="38.9" text-anchor="start">Channel 2</text></g>
</svg>
</body></html>
